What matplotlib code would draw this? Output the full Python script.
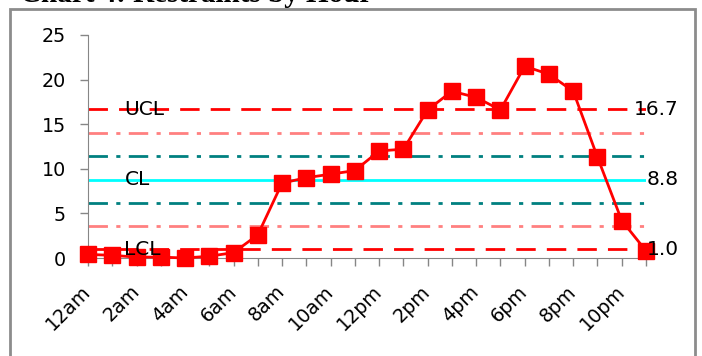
import matplotlib
matplotlib.use("Agg")
import matplotlib.pyplot as plt
from matplotlib.patches import Rectangle

# hours and restraint counts
hours = ["12am", "1am", "2am", "3am", "4am", "5am", "6am", "7am", "8am", "9am",
         "10am", "11am", "12pm", "1pm", "2pm", "3pm", "4pm", "5pm", "6pm", "7pm",
         "8pm", "9pm", "10pm", "11pm"]
counts = [0.4, 0.3, 0.1, 0.1, 0.0, 0.2, 0.6, 2.6, 8.4, 9.0,
          9.4, 9.8, 12.0, 12.2, 16.6, 18.7, 18.0, 16.6, 21.5, 20.6,
          18.7, 11.3, 4.2, 0.8]

ucl = 16.7
cl = 8.8
lcl = 1.0
sigma = (ucl - cl) / 3
y_ticks = [0, 5, 10, 15, 20, 25]

plt.rcParams['font.family'] = ['DejaVu Sans']

fig = plt.figure(figsize=(7.02, 3.56), dpi=100)
ax = fig.add_axes([88 / 702, 1 - 258 / 356, 558 / 702, 223 / 356])

# outer chart frame (bottom runs off the picture)
fig.patches.append(Rectangle((10 / 702, -0.05), 685 / 702, 1.05 - 9 / 356,
                             transform=fig.transFigure, fill=False,
                             edgecolor="#8c8c8c", linewidth=2))

fig.text(20 / 702, 1 - 2 / 356, "Chart 4: Restraints by Hour",
         family="Liberation Serif", fontweight="bold", fontsize=21,
         va="baseline", ha="left")

x = list(range(len(hours)))
xmax = len(hours) - 1

# control limits
ax.hlines([ucl, lcl], 0, xmax, colors="#ff0000", linewidth=2,
          linestyles=(0, (7, 4)))
ax.hlines([cl + 2 * sigma, cl - 2 * sigma], 0, xmax, colors="#ff8080",
          linewidth=2, linestyles=(0, (7, 3, 1.5, 3)))
ax.hlines([cl + sigma, cl - sigma], 0, xmax, colors="#008080",
          linewidth=2, linestyles=(0, (7, 3, 1.5, 3)))
ax.hlines(cl, 0, xmax, colors="#00ffff", linewidth=2)

ax.plot(x, counts, color="#ff0000", linewidth=2, marker="s", markersize=12,
        clip_on=False, zorder=5)

for name, val in [("UCL", ucl), ("CL", cl), ("LCL", lcl)]:
    ax.text(1.5, val, name, fontsize=14.5, va="center", ha="left", zorder=6)
for val in [ucl, cl, lcl]:
    ax.text(24.35, val, f"{val:.1f}", fontsize=14.5, va="center", ha="right",
            clip_on=False, zorder=6)

ax.set_xlim(0, xmax)
ax.set_ylim(0, 25)
ax.set_yticks(y_ticks)
ax.set_xticks(x)
ax.set_xticklabels([h if i % 2 == 0 else "" for i, h in enumerate(hours)],
                   rotation=45, ha="right", va="center",
                   rotation_mode="anchor")
ax.tick_params(axis="both", labelsize=13.8, color="#868686", length=6,
               width=1)
ax.tick_params(axis="y", pad=10)
ax.tick_params(axis="x", pad=16)
for s in ["top", "right"]:
    ax.spines[s].set_visible(False)
for s in ["left", "bottom"]:
    ax.spines[s].set_color("#868686")
ax.set_facecolor("none")

fig.savefig("out.png", dpi=100)
